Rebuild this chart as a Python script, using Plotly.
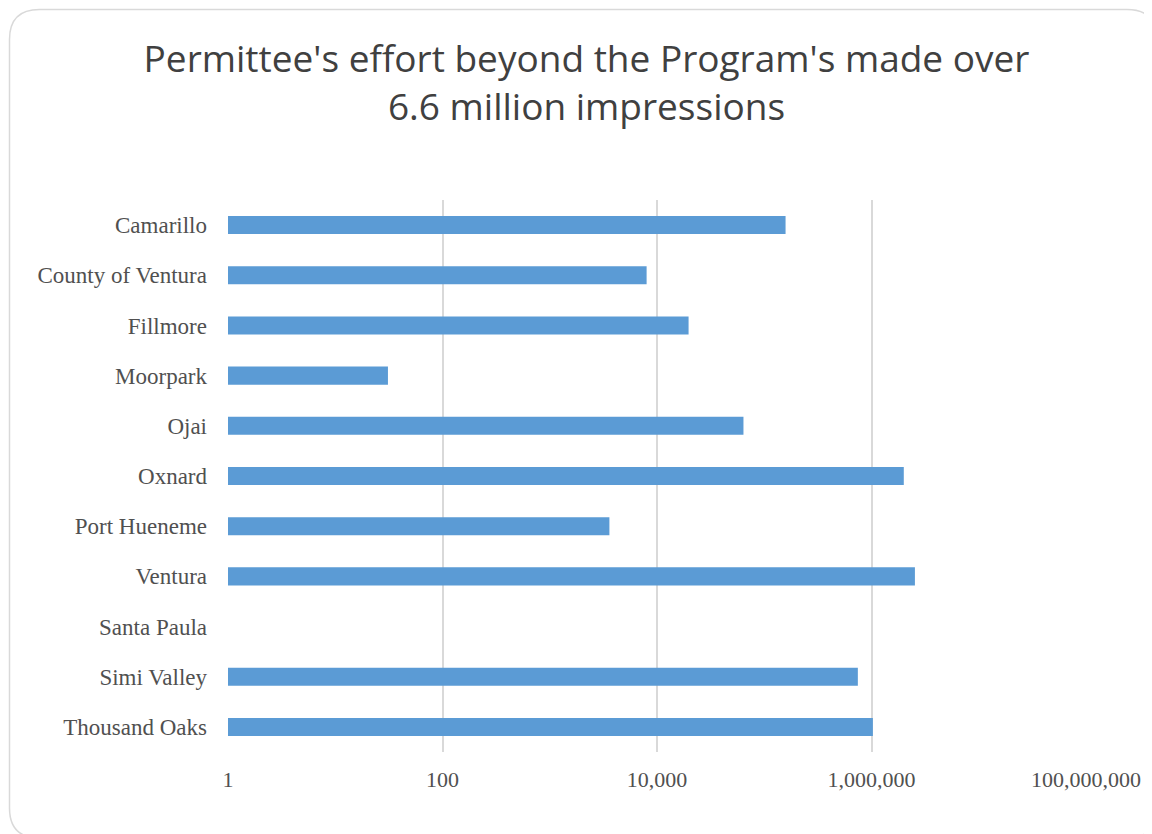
import plotly.graph_objects as go

# permittees, top to bottom as drawn
permittees = [
    "Camarillo", "County of Ventura", "Fillmore", "Moorpark", "Ojai", "Oxnard",
    "Port Hueneme", "Ventura", "Santa Paula", "Simi Valley", "Thousand Oaks",
]
# impressions (Santa Paula has none)
impressions = [
    158000, 8000, 19700, 31, 64000, 2000000,
    3600, 2540000, None, 746000, 1030000,
]
tick_vals = [1, 100, 10000, 1000000, 100000000]
tick_text = ["1", "100", "10,000", "1,000,000", "100,000,000"]

OFF = 8  # the page body adds an 8px margin; size the figure to fit the window
W, H = 1152 - OFF, 834 - OFF
L, T = 228 - OFF, 200 - OFF
R, B = W - (1086 - OFF), H - (752 - OFF)
pw, ph = W - L - R, H - T - B


def px(x):
    # screen pixel -> paper x
    return (x - OFF - L) / pw


def py(y):
    # screen pixel -> paper y
    return (H - B - (y - OFF)) / ph


fig = go.Figure(go.Bar(
    x=impressions,
    y=permittees,
    orientation="h",
    width=0.36,
    marker=dict(color="#5B9BD5", line=dict(width=0)),
))

# rounded chart frame (runs off the right/bottom edge like the original)
x0, x1, y0, y1, r = 9.5, 1157, 9.5, 838, 30
frame = (
    f"M {px(x0)},{py(y0 + r)} "
    f"Q {px(x0)},{py(y0)} {px(x0 + r)},{py(y0)} "
    f"L {px(x1 - r)},{py(y0)} "
    f"Q {px(x1)},{py(y0)} {px(x1)},{py(y0 + r)} "
    f"L {px(x1)},{py(y1 - r)} "
    f"Q {px(x1)},{py(y1)} {px(x1 - r)},{py(y1)} "
    f"L {px(x0 + r)},{py(y1)} "
    f"Q {px(x0)},{py(y1)} {px(x0)},{py(y1 - r)} Z"
)

fig.update_layout(
    width=W,
    height=H,
    margin=dict(l=L, r=R, t=T, b=B),
    paper_bgcolor="white",
    plot_bgcolor="white",
    showlegend=False,
    title=dict(
        text="Permittee's effort beyond the Program's made over<br>6.6 million impressions",
        font=dict(family="Open Sans", size=37, color="#404040"),
        x=px(578.5 + OFF), xref="paper", xanchor="center",
        y=1 - 64 / H, yref="container", yanchor="middle",
    ),
    font=dict(family="Liberation Serif", size=23, color="#505050"),
    xaxis=dict(
        type="log",
        range=[0, 8],
        tickvals=tick_vals,
        ticktext=tick_text,
        tickfont=dict(size=22),
        showgrid=True,
        gridcolor="#D9D9D9",
        gridwidth=1.5,
        zeroline=False,
        showline=False,
        ticks="",
        ticklabelstandoff=12,
    ),
    yaxis=dict(
        autorange="reversed",
        showgrid=False,
        showline=False,
        ticks="",
        ticklabelstandoff=20,
    ),
    shapes=[dict(
        type="path", xref="paper", yref="paper", path=frame,
        line=dict(color="#D9D9D9", width=1.5), layer="below",
    )],
)

fig.write_html("out.html")
